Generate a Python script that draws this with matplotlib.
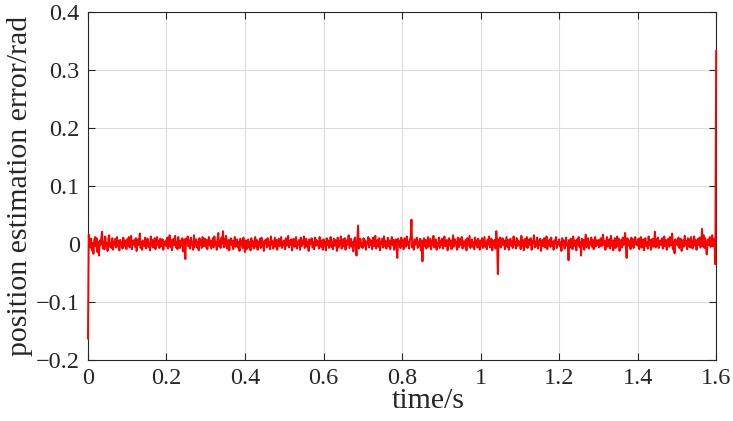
import numpy as np
import matplotlib
matplotlib.use("Agg")
import matplotlib.pyplot as plt
from matplotlib.ticker import FuncFormatter

# position estimation error in mrad, sampled every 2 ms from 0 to 1.6 s
err_mrad = [
    -163, 16, 5, -6, 9, -11, 2, -17, 7, 12,
    -4, 10, -14, 3, -20, 6, -2, 11, 21, -8,
    4, -9, 13, -3, 1, -12, 8, 15, -5, 2,
    -7, 10, -10, 4, -1, 9, -6, 12, -3, 5,
    -11, 7, -2, 3, -8, 11, -4, 6, 0, -9,
    8, -3, 12, -6, 2, 14, -9, 5, -1, 7,
    -5, 10, -12, 3, 8, -2, 18, -7, 4, -10,
    6, 1, -4, 11, -8, 3, 9, -5, 2, -11,
    13, -3, 7, -6, 0, 10, -9, 4, 12, -2,
    5, -7, 9, -4, 1, 8, -10, 3, -1, 6,
    -4, 11, -8, 2, 15, -5, 7, -11, 3, 9,
    -2, 14, -6, 4, -9, 12, 1, -7, 6, -3,
    10, -13, 5, 8, -26, 9, 3, 13, -4, 6,
    -8, 11, -1, 4, -10, 15, -5, 2, 8, -6,
    3, -11, 10, -2, 6, -7, 12, -4, 1, 9,
    -5, 7, -9, 3, 12, -3, 6, -8, 1, 10,
    -6, 13, -2, 4, -10, 8, 19, -4, 5, -7,
    11, 2, 22, -6, 9, -3, 14, -8, 3, 7,
    -11, 5, 10, -2, 6, -9, 4, 12, -5, 1,
    8, -6, 3, -12, 9, -1, 5, -7, 11, -4,
    -14, 6, -9, 2, 8, -6, 3, -11, 10, -3,
    5, -8, 1, 12, -5, 7, -10, 4, -2, 9,
    -7, 11, -4, 3, -12, 6, 1, 8, -6, 10,
    -3, 4, -9, 13, -1, 5, -8, 2, 11, -5,
    7, -10, 3, 9, -4, 0, 12, -7, 4, -2,
    6, -9, 10, -3, 2, 14, -6, 5, -1, 8,
    -11, 4, 9, -5, 1, 12, -8, 3, -2, 7,
    -10, 11, -4, 6, 0, 13, -7, 2, 9, -5,
    4, -12, 8, -1, 5, 10, -6, 3, -9, 11,
    -3, 7, -2, 4, -8, 12, 1, -5, 6, -10,
    8, -4, 3, -11, 10, -2, 6, -7, 1, 12,
    -5, 4, -9, 9, -3, 7, 2, -12, 11, -6,
    5, -1, 13, -8, 3, 8, -4, 10, -10, 6,
    -2, 4, 15, -7, 1, 9, -5, 3, -13, 7,
    11, -3, -20, 6, 32, -8, 4, 9, -5, 2,
    -7, 10, -3, 6, -10, 4, 1, 12, -6, 8,
    -2, 5, -9, 11, -4, 3, 14, -8, 2, 7,
    -5, 10, -11, 4, 0, 9, -6, 13, -3, 5,
    -8, 2, 11, -4, 6, -9, 3, 12, -2, 7,
    -10, 4, 8, -6, -24, 9, -1, 5, -7, 11,
    -3, 6, -9, 10, 2, -5, 13, -2, 4, -8,
    7, 12, 42, -6, 3, -10, 8, -1, 5, 11,
    -7, 4, -3, 9, -11, 6, -30, 2, 10, -4,
    7, -8, 1, 12, -5, 3, 9, -9, 5, -2,
    14, -6, 4, 8, -10, 2, -3, 11, -7, 6,
    -2, 9, -8, 4, 13, -4, 1, 7, -11, 5,
    10, -3, 6, -9, 2, 15, -5, 8, -1, 4,
    -10, 11, -6, 3, 9, -2, 12, -8, 5, 0,
    -4, 7, -11, 10, -3, 6, 14, -7, 2, 8,
    -5, 3, -9, 11, -1, 6, -6, 9, -3, -10,
    6, -3, 10, -7, 2, 12, -5, 4, -9, 8,
    -1, 13, -6, 3, 9, -11, 5, -2, 7, -8,
    22, 4, -52, 8, -4, 11, -6, 3, 10, -2,
    6, -9, 1, 12, -5, 7, -10, 4, 9, -3,
    5, -7, 13, -1, 3, -8, 10, -4, 6, -2,
    4, -9, 14, -3, 7, -11, 2, 9, -5, 12,
    -7, 3, 8, -2, 10, -10, 5, 1, 15, -6,
    4, -3, 11, -8, 6, -1, 9, -12, 3, 7,
    -4, 10, -6, 2, 13, -9, 5, -2, 8, -5,
    11, -3, 4, -10, 6, 1, 12, -7, 3, -1,
    8, -4, 3, -12, 10, -2, 6, -8, 5, 11,
    -3, 2, -28, 7, -6, 9, 3, -9, 13, -4,
    6, 1, -11, 8, -2, 12, -5, 4, -20, 9,
    -3, 7, -10, 5, 16, -6, 2, 10, -8, 4,
    -1, 11, -5, 7, -9, 3, 12, -4, 6, -2,
    7, -6, 3, 10, -4, 9, 16, -2, 5, -10,
    4, 12, -5, 1, 8, -8, 14, -3, 6, -11,
    2, 10, -7, 5, 13, -4, 9, -12, 3, 7,
    -6, 11, -2, 4, 19, -5, -24, 10, -3, 6,
    2, -9, 11, -4, 8, -7, 5, 12, -1, 3,
    -3, 9, -9, 5, 12, -6, 2, 8, -11, 6,
    10, -4, 3, -8, 13, -2, 7, -10, 4, 9,
    -5, 1, 21, -6, 8, -3, 11, -7, 3, 6,
    -2, 10, -8, 5, 13, -4, 7, -10, 2, 9,
    -5, 12, -3, 6, 18, -9, 4, -16, 8, 1,
    6, -3, 11, -7, 4, 9, -12, 2, 7, -5,
    14, -2, 5, -9, 10, -4, 8, -6, 12, 1,
    -8, 4, 13, -3, 7, -10, 5, 9, -2, 11,
    -6, 3, 26, -4, 15, -7, 10, -3, -18, 6,
    8, -2, 12, -5, 4, 15, -4, 9, 2, -35,
    333,
]
t_start, t_end = 0.0, 1.6
x_ticks = [0, 0.2, 0.4, 0.6, 0.8, 1.0, 1.2, 1.4, 1.6]
y_ticks = [-0.2, -0.1, 0, 0.1, 0.2, 0.3, 0.4]
x_label = "time/s"
y_label = "position estimation error/rad"

t = np.linspace(t_start, t_end, len(err_mrad))
err = np.array(err_mrad) / 1000.0

plt.rcParams["font.family"] = ["Liberation Serif", "DejaVu Serif"]
fig = plt.figure(figsize=(7.33, 4.21), dpi=100)
ax = fig.add_axes([0.120, 0.145, 0.857, 0.8265])
ax.plot(t, err, color="#ff0000", lw=1.4, zorder=3, clip_on=False)

ax.set_xlim(t_start, t_end)
ax.set_ylim(-0.2, 0.4)
ax.set_xticks(x_ticks)
ax.set_yticks(y_ticks)
fmt = FuncFormatter(lambda v, p: ("%g" % round(v, 3)).replace("-", "\u2212"))
ax.xaxis.set_major_formatter(fmt)
ax.yaxis.set_major_formatter(fmt)
ax.grid(True, color="#dcdcdc", lw=0.8)
ax.set_axisbelow(True)
ax.tick_params(direction="in", top=True, right=True, length=5, width=0.8,
               color="#262626", labelsize=17.5, labelcolor="#262626", pad=6)
for s in ax.spines.values():
    s.set_color("#262626")
    s.set_linewidth(0.8)
ax.set_xlabel(x_label, fontsize=21.5, color="#262626")
ax.xaxis.set_label_coords(0.541, -0.08)
ax.set_ylabel(y_label, fontsize=21.5, color="#262626", labelpad=2)

fig.savefig("out.png", dpi=100)
